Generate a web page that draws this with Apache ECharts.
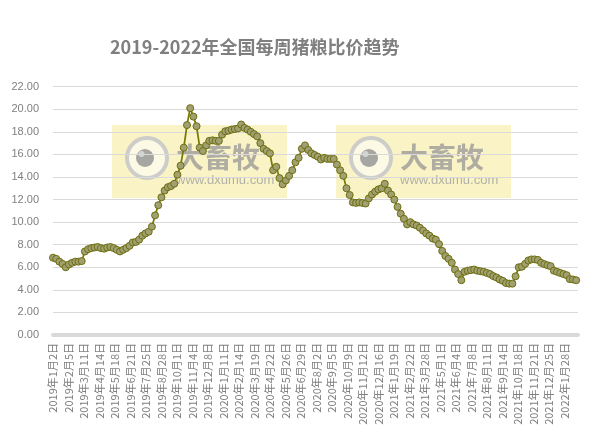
<!DOCTYPE html>
<html>
<head>
<meta charset="utf-8">
<script src="https://cdn.jsdelivr.net/npm/echarts@6/dist/echarts.min.js"></script>
<style>html,body{margin:0;padding:0;background:#fff}#c{width:603px;height:436px}</style>
</head>
<body>
<div id="c"></div>
<script>
// ---- data ----
const titleText = '2019-2022年全国每周猪粮比价趋势';
const startDate = [2019, 1, 2];      // first weekly observation (Wednesday)
const stepDays = 7;                  // observations are weekly
const axisDays = 1153;               // number of day slots on the date axis
const labelEveryDays = 34;           // a date label every 34 days
const yTicks = [0, 2, 4, 6, 8, 10, 12, 14, 16, 18, 20, 22];
const ratio = [
  6.85, 6.75, 6.5, 6.3, 6.0, 6.25, 6.4, 6.5, 6.5, 6.55,
  7.4, 7.6, 7.7, 7.75, 7.8, 7.7, 7.65, 7.75, 7.8, 7.7,
  7.55, 7.4, 7.55, 7.7, 7.9, 8.2, 8.25, 8.45, 8.8, 9.0,
  9.15, 9.6, 10.6, 11.5, 12.2, 12.8, 13.1, 13.2, 13.4, 14.2,
  15.0, 16.6, 18.6, 20.1, 19.35, 18.5, 16.6, 16.3, 16.8, 17.2,
  17.25, 17.2, 17.2, 17.75, 18.05, 18.1, 18.2, 18.25, 18.3, 18.65,
  18.35, 18.2, 18.0, 17.8, 17.6, 17.0, 16.5, 16.3, 16.1, 14.6,
  14.9, 13.9, 13.35, 13.7, 14.1, 14.6, 15.3, 15.7, 16.5, 16.8,
  16.4, 16.1, 15.95, 15.8, 15.55, 15.7, 15.6, 15.6, 15.6, 15.1,
  14.6, 14.1, 13.0, 12.4, 11.75, 11.7, 11.75, 11.7, 11.65, 12.1,
  12.45, 12.7, 12.9, 13.0, 13.4, 12.8, 12.45, 12.0, 11.35, 10.75,
  10.3, 9.8, 10.0, 9.8, 9.7, 9.5, 9.25, 9.0, 8.8, 8.55,
  8.45, 8.05, 7.45, 7.0, 6.75, 6.4, 5.8, 5.4, 4.86, 5.6,
  5.7, 5.75, 5.8, 5.7, 5.65, 5.6, 5.5, 5.4, 5.22, 5.1,
  4.92, 4.8, 4.6, 4.55, 4.55, 5.2, 6.0, 6.05, 6.3, 6.6,
  6.7, 6.7, 6.65, 6.4, 6.28, 6.18, 6.1, 5.7, 5.6, 5.5,
  5.4, 5.3, 4.95, 4.92, 4.85
];

// ---- build axis categories (one per day) and series pairs ----
function dayLabel(i) {
  const d = new Date(Date.UTC(startDate[0], startDate[1] - 1, startDate[2] + i));
  return d.getUTCFullYear() + '年' + (d.getUTCMonth() + 1) + '月' + d.getUTCDate() + '日';
}
const days = [];
for (let i = 0; i < axisDays; i++) days.push(dayLabel(i));
const seriesData = ratio.map((v, k) => [days[k * stepDays], v]);

// ---- watermark ----
function watermark(x0, y0) {
  return {
    type: 'group', x: x0, y: y0, z: 100, silent: true,
    children: [
      { type: 'rect', shape: { x: 0, y: 0, width: 175, height: 73 },
        style: { fill: 'rgba(240,225,110,0.40)' } },
      { type: 'circle', shape: { cx: 35, cy: 33, r: 20 },
        style: { fill: 'rgba(255,255,255,0.55)', stroke: 'rgba(200,200,200,0.9)', lineWidth: 4 } },
      { type: 'circle', shape: { cx: 33, cy: 33, r: 9 },
        style: { fill: 'rgba(150,150,150,0.85)' } },
      { type: 'circle', shape: { cx: 29.5, cy: 29, r: 3 },
        style: { fill: 'rgba(215,215,215,0.9)' } },
      { type: 'text', x: 64, y: 32,
        style: { text: '大畜牧', fill: 'rgba(150,150,150,0.75)', fontSize: 28, fontWeight: 'bold',
                 fontFamily: '"Noto Sans CJK SC", sans-serif', textVerticalAlign: 'middle' } },
      { type: 'text', x: 64, y: 55,
        style: { text: 'www.dxumu.com', fill: 'rgba(160,160,160,0.8)', fontSize: 13,
                 fontFamily: '"Liberation Sans", Arial, sans-serif', textVerticalAlign: 'middle' } }
    ]
  };
}

const chart = echarts.init(document.getElementById('c'), null, { renderer: 'canvas' });
chart.setOption({
  animation: false,
  backgroundColor: '#ffffff',
  title: {
    text: titleText, left: 105, top: 33,
    textStyle: { color: '#7f7f7f', fontSize: 18, fontWeight: 'bold',
                 fontFamily: '"Noto Sans CJK SC", sans-serif' }
  },
  grid: { left: 53, right: 25, top: 86.7, bottom: 101, containLabel: false },
  xAxis: {
    type: 'category', data: days, boundaryGap: false, offset: 3,
    axisLine: { show: true, lineStyle: { color: '#d9d9d9', width: 4 } },
    axisTick: { show: false },
    axisLabel: {
      interval: labelEveryDays - 1, rotate: 90, margin: 5,
      color: '#808080', fontSize: 11, fontFamily: '"Noto Sans CJK SC", sans-serif'
    },
    splitLine: { show: false }
  },
  yAxis: {
    type: 'value', min: yTicks[0], max: yTicks[yTicks.length - 1], interval: 2,
    axisLine: { show: false }, axisTick: { show: false },
    axisLabel: { margin: 14, color: '#808080', fontSize: 11,
                 fontFamily: '"Liberation Sans", Arial, sans-serif',
                 formatter: v => v.toFixed(2) },
    splitLine: { lineStyle: { color: '#d9d9d9', width: 1 } }
  },
  series: [{
    type: 'line', data: seriesData, connectNulls: true,
    showAllSymbol: true, symbol: 'circle', symbolSize: 7,
    lineStyle: { color: '#7a7a00', width: 1.75 },
    itemStyle: { color: '#a0a070', borderColor: '#6e6e10', borderWidth: 1 },
    z: 3
  }],
  graphic: [watermark(112, 125), watermark(336, 125)]
});
</script>
</body>
</html>
